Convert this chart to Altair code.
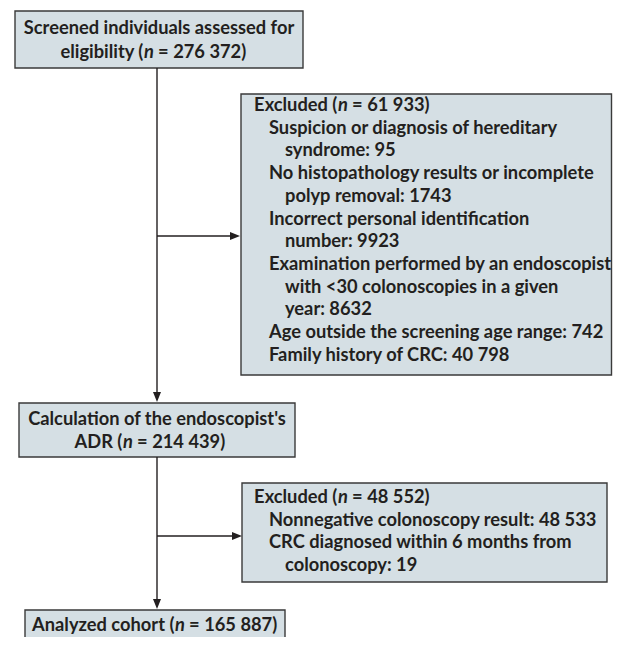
import altair as alt
import pandas as pd

# ---- text content ----
top_lines = ["Screened individuals assessed for"]
top_count = ["eligibility (", "n", "= 276 372)"]
adr_lines = ["Calculation of the endoscopist's"]
adr_count = ["ADR (", "n", "= 214 439)"]
final_count = ["Analyzed cohort (", "n", "= 165 887)"]
excl1_head = ["Excluded (", "n", "= 61 933)"]
excl1_items = [
    "Suspicion or diagnosis of hereditary",
    "syndrome: 95",
    "No histopathology results or incomplete",
    "polyp removal: 1743",
    "Incorrect personal identification",
    "number: 9923",
    "Examination performed by an endoscopist",
    "with <30 colonoscopies in a given",
    "year: 8632",
    "Age outside the screening age range: 742",
    "Family history of CRC: 40 798",
]
excl1_level = [1, 2, 1, 2, 1, 2, 1, 2, 2, 1, 1]
excl2_head = ["Excluded (", "n", "= 48 552)"]
excl2_items = [
    "Nonnegative colonoscopy result: 48 533",
    "CRC diagnosed within 6 months from",
    "colonoscopy: 19",
]
excl2_level = [1, 1, 2]

# ---- layout (page pixel coordinates) ----
FONT = "Lato"
FS = 18.3
TXT = "#231f20"
FILL = "#d5dfe4"
EDGE = "#3a3a3a"

boxes = pd.DataFrame([
    dict(x1=15, x2=303, y1=11, y2=68),
    dict(x1=241, x2=611.5, y1=94, y2=375),
    dict(x1=19, x2=295, y1=403, y2=457),
    dict(x1=242, x2=607, y1=483, y2=582),
    dict(x1=25, x2=285, y1=610, y2=670),
])

segs = pd.DataFrame([
    dict(x1=157, x2=157, y1=68, y2=397),
    dict(x1=157, x2=157, y1=457, y2=604),
    dict(x1=157, x2=235, y1=236, y2=236),
    dict(x1=157, x2=237, y1=536, y2=536),
])

heads_down = pd.DataFrame([dict(x=157, y=397), dict(x=157, y=604)])
heads_right = pd.DataFrame([dict(x=235, y=236), dict(x=237, y=536)])

# plain text rows
plain = []
plain.append(dict(x=159, y=29, t=top_lines[0], a="center"))
plain.append(dict(x=157, y=420, t=adr_lines[0], a="center"))
LX = {1: 269, 2: 285}
ex1_y0, step = 106, 22.7
for i, (t, lv) in enumerate(zip(excl1_items, excl1_level)):
    plain.append(dict(x=LX[lv], y=ex1_y0 + step * (i + 1), t=t, a="left"))
ex2_y0 = 498
for i, (t, lv) in enumerate(zip(excl2_items, excl2_level)):
    plain.append(dict(x=LX[lv], y=ex2_y0 + step * (i + 1), t=t, a="left"))

# lines with italic n: (parts, n_center_x, y)
NW = 5.6
GAP = 3.5
counted = [
    (top_count, 149, 53),
    (adr_count, 128, 443),
    (final_count, 180, 626),
    (excl1_head, 343, ex1_y0),
    (excl2_head, 343, ex2_y0),
]
pre, ital, post = [], [], []
for parts, nx, y in counted:
    pre.append(dict(x=nx - NW, y=y, t=parts[0]))
    ital.append(dict(x=nx, y=y, t=parts[1]))
    post.append(dict(x=nx + NW + GAP, y=y, t=parts[2]))

plain = pd.DataFrame(plain)
pre, ital, post = pd.DataFrame(pre), pd.DataFrame(ital), pd.DataFrame(post)

xs = alt.Scale(domain=[8, 613], range=[0, 605], nice=False, zero=False)
ys = alt.Scale(domain=[8, 637], reverse=True, nice=False, zero=False)
X = lambda f: alt.X(f, type="quantitative", scale=xs, axis=None)
Y = lambda f: alt.Y(f, type="quantitative", scale=ys, axis=None)

rects = alt.Chart(boxes).mark_rect(fill=FILL, stroke=EDGE, strokeWidth=1.4).encode(
    x=X("x1"), x2="x2", y=Y("y1"), y2="y2")
rules = alt.Chart(segs).mark_rule(color=TXT, strokeWidth=1.4).encode(
    x=X("x1"), x2="x2", y=Y("y1"), y2="y2")
down = alt.Chart(heads_down).mark_point(
    shape="M0,1 L-0.8,-1 L0.8,-1 Z", size=100, filled=True, color=TXT, opacity=1
).encode(x=X("x"), y=Y("y"))
right = alt.Chart(heads_right).mark_point(
    shape="M1,0 L-1,-0.8 L-1,0.8 Z", size=100, filled=True, color=TXT, opacity=1
).encode(x=X("x"), y=Y("y"))

tstyle = dict(font=FONT, fontSize=FS, fontWeight="bold", color=TXT, baseline="middle")
ptext_c = alt.Chart(plain[plain.a == "center"]).mark_text(align="center", **tstyle).encode(
    x=X("x"), y=Y("y"), text="t:N")
ptext_l = alt.Chart(plain[plain.a == "left"]).mark_text(align="left", **tstyle).encode(
    x=X("x"), y=Y("y"), text="t:N")
pre_t = alt.Chart(pre).mark_text(align="right", **tstyle).encode(x=X("x"), y=Y("y"), text="t:N")
ital_t = alt.Chart(ital).mark_text(align="center", fontStyle="italic", **tstyle).encode(
    x=X("x"), y=Y("y"), text="t:N")
post_t = alt.Chart(post).mark_text(align="left", **tstyle).encode(x=X("x"), y=Y("y"), text="t:N")

chart = alt.layer(rects, rules, down, right, ptext_c, ptext_l, pre_t, ital_t, post_t).properties(
    width=605, height=629, padding=0, autosize=alt.AutoSizeParams(type="none"),
    background="white"
).configure_view(stroke=None)

chart.save("out.html", embed_options={"renderer": "svg", "actions": False})
